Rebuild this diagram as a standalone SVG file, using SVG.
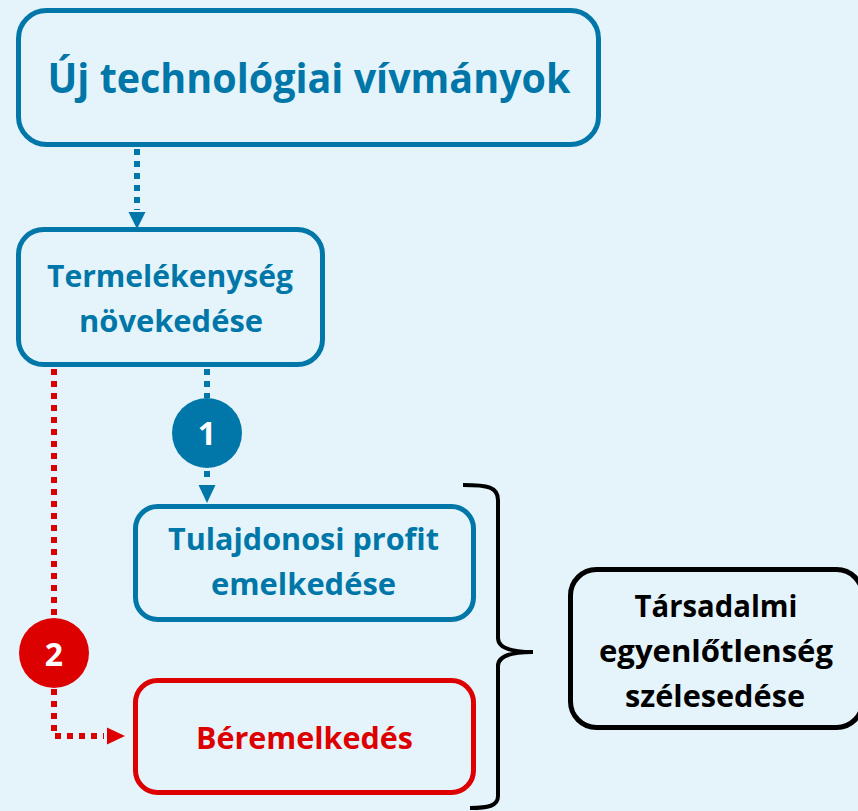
<svg xmlns="http://www.w3.org/2000/svg" width="858" height="811" viewBox="0 0 858 811">
<style>
.bg{fill:#E5F4FA}
.box{fill:none;stroke-width:5}
.blue{stroke:#0077A8}
.red{stroke:#DD0000}
.black{stroke:#000}
.t{font-family:"Open Sans","Liberation Sans",sans-serif;font-weight:bold;text-anchor:middle}
.tb{fill:#0077A8}
.tr{fill:#DD0000}
.tk{fill:#000}
.tw{fill:#fff}
.dot{fill:none;stroke-width:6;stroke-dasharray:6 6}
</style>
<rect class="bg" x="0" y="0" width="858" height="811"/>
<g id="connectors">
  <line class="dot blue" x1="137" y1="149" x2="137" y2="210"/>
  <polygon points="128.5,212 145.5,212 137,229" fill="#0077A8"/>
  <line class="dot blue" x1="207" y1="369" x2="207" y2="398"/>
  <line class="dot blue" x1="207" y1="471" x2="207" y2="482"/>
  <polygon points="198.5,485 215.5,485 207,503" fill="#0077A8"/>
  <line class="dot red" x1="54" y1="369" x2="54" y2="618"/>
  <polyline class="dot red" points="54,689 54,736 104,736"/>
  <polygon points="107,727.5 107,744.5 125,736" fill="#DD0000"/>
  <path d="M463,485 C488,485 498,487 498,500 L498,638 C498,648 510,652 533,652 C510,652 498,656 498,666 L498,796 C498,806 488,808 470,808" fill="none" stroke="#000" stroke-width="4"/>
</g>
<g id="node-uj">
  <rect class="box blue" x="18.5" y="10.5" width="580" height="134" rx="28"/>
  <text class="t tb" x="309" y="93" font-size="42" textLength="523" lengthAdjust="spacingAndGlyphs">Új technológiai vívmányok</text>
</g>
<g id="node-termelekenyseg">
  <rect class="box blue" x="18.5" y="229.5" width="304" height="135" rx="25"/>
  <text class="t tb" x="170" y="287" font-size="31" textLength="246" lengthAdjust="spacingAndGlyphs">Termelékenység</text>
  <text class="t tb" x="171" y="332" font-size="31" textLength="184" lengthAdjust="spacingAndGlyphs">növekedése</text>
</g>
<g id="badge-1">
  <circle cx="207" cy="433" r="35" fill="#0077A8"/>
  <text class="t tw" x="207" y="445" font-size="32">1</text>
</g>
<g id="node-profit">
  <rect class="box blue" x="135.5" y="506.5" width="338" height="113" rx="22"/>
  <text class="t tb" x="303.5" y="550" font-size="31" textLength="271" lengthAdjust="spacingAndGlyphs">Tulajdonosi profit</text>
  <text class="t tb" x="303.5" y="595" font-size="31" textLength="185" lengthAdjust="spacingAndGlyphs">emelkedése</text>
</g>
<g id="badge-2">
  <circle cx="54" cy="653" r="35" fill="#DD0000"/>
  <text class="t tw" x="54" y="666" font-size="32">2</text>
</g>
<g id="node-beremelkedes">
  <rect class="box red" x="135.5" y="680.5" width="338" height="112" rx="22"/>
  <text class="t tr" x="304.5" y="749" font-size="31" textLength="217" lengthAdjust="spacingAndGlyphs">Béremelkedés</text>
</g>
<g id="node-tarsadalmi">
  <rect class="box black" x="570.5" y="569.5" width="292" height="158" rx="26"/>
  <text class="t tk" x="716" y="617" font-size="31" textLength="163" lengthAdjust="spacingAndGlyphs">Társadalmi</text>
  <text class="t tk" x="716" y="662" font-size="31" textLength="234" lengthAdjust="spacingAndGlyphs">egyenlőtlenség</text>
  <text class="t tk" x="715" y="707" font-size="31" textLength="180" lengthAdjust="spacingAndGlyphs">szélesedése</text>
</g>
</svg>
